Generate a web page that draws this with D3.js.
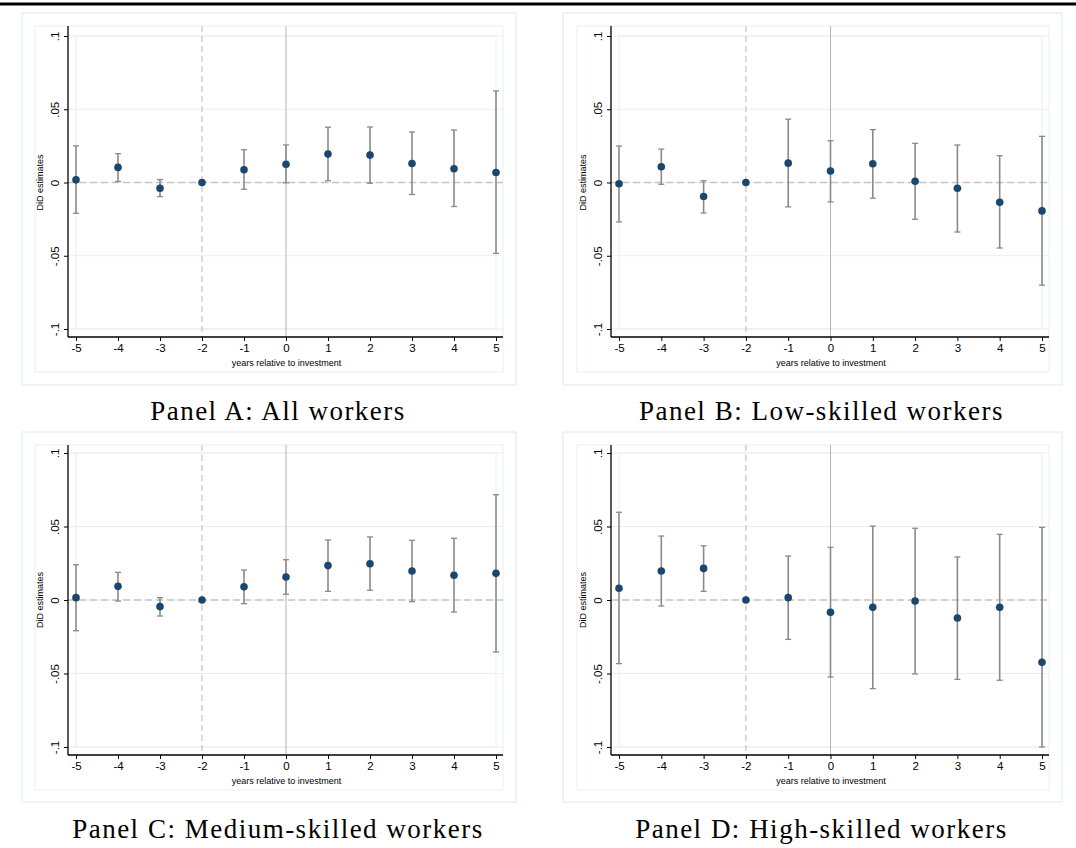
<!DOCTYPE html>
<html>
<head>
<meta charset="utf-8">
<script src="https://cdn.jsdelivr.net/npm/d3@7"></script>
<style>
  body { margin: 0; background: #fff; }
  svg { display: block; }
</style>
</head>
<body>
<div id="chart"></div>
<script>
// event-time axis
const years = [-5, -4, -3, -2, -1, 0, 1, 2, 3, 4, 5]
const yTicks = [-0.1, -0.05, 0, 0.05, 0.1]
const yTickLabels = ['-.1', '-.05', '0', '.05', '.1']

// Panel A: all workers
const estA = [0.0018, 0.0103, -0.0039, 0, 0.0087, 0.0125, 0.0194, 0.0187, 0.0130, 0.0094, 0.0068]
const hiA  = [0.0250, 0.0197, 0.0020, null, 0.0224, 0.0256, 0.0377, 0.0379, 0.0345, 0.0358, 0.0625]
const loA  = [-0.0210, 0.0007, -0.0096, null, -0.0046, -0.0002, 0.0012, -0.0005, -0.0082, -0.0164, -0.0484]

// Panel B: low-skilled
const estB = [-0.0009, 0.0107, -0.0096, 0, 0.0132, 0.0078, 0.0128, 0.0009, -0.0039, -0.0135, -0.0194]
const hiB  = [0.0249, 0.0228, 0.0012, null, 0.0432, 0.0285, 0.0361, 0.0267, 0.0256, 0.0183, 0.0315]
const loB  = [-0.0269, -0.0012, -0.0208, null, -0.0166, -0.0132, -0.0107, -0.0251, -0.0338, -0.0447, -0.0701]

// Panel C: medium-skilled
const estC = [0.0016, 0.0093, -0.0045, 0, 0.0090, 0.0156, 0.0234, 0.0247, 0.0197, 0.0168, 0.0182]
const hiC  = [0.0240, 0.0188, 0.0016, null, 0.0204, 0.0274, 0.0408, 0.0429, 0.0406, 0.0420, 0.0716]
const loC  = [-0.0209, -0.0007, -0.0109, null, -0.0025, 0.0039, 0.0059, 0.0066, -0.0011, -0.0082, -0.0354]

// Panel D: high-skilled
const estD = [0.0080, 0.0197, 0.0215, 0, 0.0016, -0.0084, -0.0050, -0.0007, -0.0122, -0.0050, -0.0424]
const hiD  = [0.0597, 0.0435, 0.0369, null, 0.0299, 0.0358, 0.0503, 0.0488, 0.0293, 0.0447, 0.0494]
const loD  = [-0.0433, -0.0041, 0.0059, null, -0.0268, -0.0524, -0.0603, -0.0503, -0.0540, -0.0546, -0.1000]

const captions = ['Panel A: All workers', 'Panel B: Low-skilled workers',
                  'Panel C: Medium-skilled workers', 'Panel D: High-skilled workers']
const xTitle = 'years relative to investment'
const yTitle = 'DiD estimates'

const W = 1076, H = 848
const navy = '#1a476f'
const ciColor = '#8a8a8a'
const gridColor = '#e6eff1'
const boxColor = '#e9f0f2'

// layout per column / row (outer box, inner box, axis, plotregion)
const cols = [
  { outL: 22, inL: 35, axisX: 68, x0: 76, x1: 496, inR: 503, outR: 516 },
  { outL: 563, inL: 577, axisX: 611, x0: 619, x1: 1042, inR: 1049, outR: 1062 }
]
const rows = [
  { outT: 13, inT: 26, y1: 36, y0: 329, axisY: 337, inB: 372, outB: 385, cap: 420 },
  { outT: 432, inT: 445, y1: 453, y0: 747, axisY: 755, inB: 790, outB: 802, cap: 838 }
]

const panels = [
  { est: estA, hi: hiA, lo: loA, col: 0, row: 0 },
  { est: estB, hi: hiB, lo: loB, col: 1, row: 0 },
  { est: estC, hi: hiC, lo: loC, col: 0, row: 1 },
  { est: estD, hi: hiD, lo: loD, col: 1, row: 1 }
]

const svg = d3.select('#chart').append('svg')
    .attr('width', W)
    .attr('height', H)

// top rule
svg.append('line')
    .attr('x1', 0).attr('x2', W)
    .attr('y1', 4).attr('y2', 4)
    .attr('stroke', '#000')
    .attr('stroke-width', 3)

panels.forEach((p, i) => {
    const c = cols[p.col], r = rows[p.row]
    const g = svg.append('g')

    const xScale = d3.scaleLinear().domain([-5, 5]).range([c.x0, c.x1])
    const yScale = d3.scaleLinear().domain([-0.1, 0.1]).range([r.y0, r.y1])

    // outer graph box and inner box
    g.append('rect')
        .attr('x', c.outL).attr('y', r.outT)
        .attr('width', c.outR - c.outL).attr('height', r.outB - r.outT)
        .attr('fill', 'none').attr('stroke', boxColor).attr('stroke-width', 1.5)
    g.append('rect')
        .attr('x', c.inL).attr('y', r.inT)
        .attr('width', c.inR - c.inL).attr('height', r.inB - r.inT)
        .attr('fill', 'none').attr('stroke', boxColor).attr('stroke-width', 1)

    // plot region outline
    g.append('rect')
        .attr('x', c.x0).attr('y', r.y1)
        .attr('width', c.x1 - c.x0).attr('height', r.y0 - r.y1)
        .attr('fill', 'none').attr('stroke', boxColor).attr('stroke-width', 1)

    // gridlines
    g.append('g').selectAll('line')
        .data(yTicks)
        .join('line')
        .attr('x1', c.axisX).attr('x2', c.inR)
        .attr('y1', d => yScale(d)).attr('y2', d => yScale(d))
        .attr('stroke', gridColor).attr('stroke-width', 1)

    // reference lines
    g.append('line')
        .attr('x1', c.axisX).attr('x2', c.inR)
        .attr('y1', yScale(0)).attr('y2', yScale(0))
        .attr('stroke', '#c4c4c4').attr('stroke-width', 1.5)
        .attr('stroke-dasharray', '7,4')
    g.append('line')
        .attr('x1', xScale(-2)).attr('x2', xScale(-2))
        .attr('y1', r.inT).attr('y2', r.axisY)
        .attr('stroke', '#c4c4c4').attr('stroke-width', 1.2)
        .attr('stroke-dasharray', '6,4')
    g.append('line')
        .attr('x1', xScale(0)).attr('x2', xScale(0))
        .attr('y1', r.inT).attr('y2', r.axisY)
        .attr('stroke', '#b4b4b4').attr('stroke-width', 1)

    // error bars
    const ci = years.map((yr, j) => ({ yr, hi: p.hi[j], lo: p.lo[j] })).filter(d => d.hi !== null)
    const bars = g.append('g').selectAll('g')
        .data(ci)
        .join('g')
        .attr('transform', d => `translate(${xScale(d.yr)},0)`)
    bars.append('line')
        .attr('y1', d => yScale(d.hi)).attr('y2', d => yScale(d.lo))
        .attr('stroke', ciColor).attr('stroke-width', 1.6)
    bars.append('line')
        .attr('x1', -3).attr('x2', 3)
        .attr('y1', d => yScale(d.hi)).attr('y2', d => yScale(d.hi))
        .attr('stroke', ciColor).attr('stroke-width', 1.3)
    bars.append('line')
        .attr('x1', -3).attr('x2', 3)
        .attr('y1', d => yScale(d.lo)).attr('y2', d => yScale(d.lo))
        .attr('stroke', ciColor).attr('stroke-width', 1.3)

    // point estimates
    g.append('g').selectAll('circle')
        .data(years.map((yr, j) => ({ yr, v: p.est[j] })))
        .join('circle')
        .attr('cx', d => xScale(d.yr))
        .attr('cy', d => yScale(d.v))
        .attr('r', 3.8)
        .attr('fill', navy)

    // axes
    const xAxis = g.append('g')
        .attr('transform', `translate(0,${r.axisY})`)
        .call(d3.axisBottom(xScale).tickValues(years).tickSize(4).tickFormat(d3.format('d')))
    xAxis.select('.domain').remove()
    xAxis.append('line')
        .attr('x1', c.axisX).attr('x2', c.inR)
        .attr('stroke', '#000').attr('stroke-width', 1.3)
    xAxis.selectAll('.tick text')
        .attr('y', 7)
        .attr('font-family', 'Liberation Sans, Arial, sans-serif')
        .attr('font-size', 11.5)
        .text(d => d < 0 ? '-' + Math.abs(d) : d)

    const yAxis = g.append('g')
        .attr('transform', `translate(${c.axisX},0)`)
        .call(d3.axisLeft(yScale).tickValues(yTicks).tickSize(4).tickFormat((d, k) => yTickLabels[k]))
    yAxis.select('.domain').remove()
    yAxis.append('line')
        .attr('y1', r.inT).attr('y2', r.axisY)
        .attr('stroke', '#000').attr('stroke-width', 1.3)
    yAxis.selectAll('.tick text')
        .attr('x', 0).attr('y', 0)
        .attr('dy', 0)
        .attr('text-anchor', 'middle')
        .attr('transform', 'translate(-9,0) rotate(-90)')
        .attr('font-family', 'Liberation Sans, Arial, sans-serif')
        .attr('font-size', 11.5)

    // axis titles
    g.append('text')
        .attr('x', (c.axisX + c.inR) / 2 + 1)
        .attr('y', r.axisY + 29)
        .attr('text-anchor', 'middle')
        .attr('font-family', 'Liberation Sans, Arial, sans-serif')
        .attr('font-size', 9)
        .text(xTitle)
    g.append('text')
        .attr('transform', `translate(${c.axisX - 25},${yScale(0)}) rotate(-90)`)
        .attr('text-anchor', 'middle')
        .attr('font-family', 'Liberation Sans, Arial, sans-serif')
        .attr('font-size', 9)
        .text(yTitle)

    // caption
    g.append('text')
        .attr('x', (c.outL + c.outR) / 2 + 9)
        .attr('y', r.cap)
        .attr('text-anchor', 'middle')
        .attr('font-family', 'Liberation Serif, DejaVu Serif, serif')
        .attr('font-size', 27)
        .attr('letter-spacing', 1.5)
        .attr('fill', '#000')
        .text(captions[i])
})
</script>
</body>
</html>
